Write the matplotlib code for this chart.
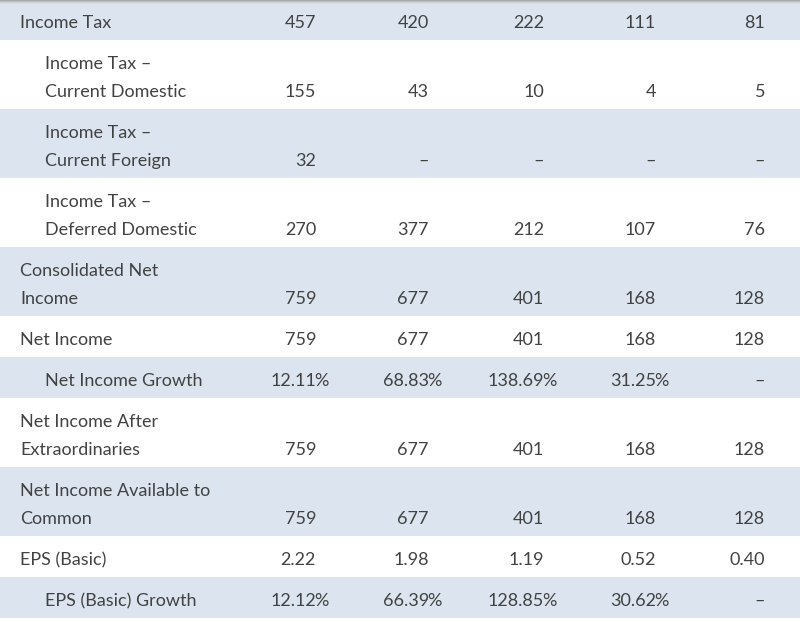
# -*- coding: utf-8 -*-
import matplotlib.pyplot as plt
from matplotlib.patches import Rectangle

# %%
# row labels (two-line labels wrap with \n) and indent level
row_labels = ['Income Tax',
              'Income Tax –\nCurrent Domestic',
              'Income Tax –\nCurrent Foreign',
              'Income Tax –\nDeferred Domestic',
              'Consolidated Net\nIncome',
              'Net Income',
              'Net Income Growth',
              'Net Income After\nExtraordinaries',
              'Net Income Available to\nCommon',
              'EPS (Basic)',
              'EPS (Basic) Growth']
indent = [0, 1, 1, 1, 0, 0, 1, 0, 0, 0, 1]

# values per row, 5 periods; None = no value
income_tax = [457, 420, 222, 111, 81]
tax_current_domestic = [155, 43, 10, 4, 5]
tax_current_foreign = [32, None, None, None, None]
tax_deferred_domestic = [270, 377, 212, 107, 76]
consolidated_net_income = [759, 677, 401, 168, 128]
net_income = [759, 677, 401, 168, 128]
net_income_growth = [12.11, 68.83, 138.69, 31.25, None]
net_income_after_extra = [759, 677, 401, 168, 128]
net_income_common = [759, 677, 401, 168, 128]
eps_basic = [2.22, 1.98, 1.19, 0.52, 0.40]
eps_basic_growth = [12.12, 66.39, 128.85, 30.62, None]

rows = [income_tax, tax_current_domestic, tax_current_foreign, tax_deferred_domestic,
        consolidated_net_income, net_income, net_income_growth, net_income_after_extra,
        net_income_common, eps_basic, eps_basic_growth]
row_fmt = ['int', 'int', 'int', 'int', 'int', 'int', 'pct', 'int', 'int', 'eps', 'pct']

# %%
W, H = 800, 622
col_right = [316, 429, 544, 656, 765]
shade = '#dce5ef'
txt = '#424242'
font = dict(family='Lato', fontsize=13, color=txt)

fig = plt.figure(figsize=(W / 100, H / 100), dpi=100)
ax = fig.add_axes([0, 0, 1, 1])
ax.set_xlim(0, W)
ax.set_ylim(H, 0)
ax.axis('off')

top = -1
for i, label in enumerate(row_labels):
    n_lines = label.count('\n') + 1
    h = 41 if n_lines == 1 else 69
    if i % 2 == 0:
        ax.add_patch(Rectangle((0, top), W, h, facecolor=shade, edgecolor='none', zorder=0))
    x_lab = 20 if indent[i] == 0 else 45
    for k, line in enumerate(label.split('\n')):
        ax.text(x_lab, top + 29 + 28 * k, line, ha='left', va='baseline', **font)
    y_val = top + 29 + 28 * (n_lines - 1)
    for j, v in enumerate(rows[i]):
        if v is None:
            ax.text(col_right[j], y_val, '–', ha='right', va='baseline', **font)
        elif row_fmt[i] == 'pct':
            ax.text(col_right[j], y_val, '%.2f' % v, ha='right', va='baseline', **font)
            ax.text(col_right[j] - 1.5, y_val, '%', ha='left', va='baseline', **font)
        elif row_fmt[i] == 'eps':
            ax.text(col_right[j], y_val, '%.2f' % v, ha='right', va='baseline', **font)
        else:
            ax.text(col_right[j], y_val, '%d' % v, ha='right', va='baseline', **font)
    top += h

# grey shadow along the top edge
shadow = ['#a9a9a9', '#bdbdbd', '#cfd2d6', '#d8dde3', '#dbe2ea']
for k, c in enumerate(shadow):
    ax.add_patch(Rectangle((0, k), W, 1, facecolor=c, edgecolor='none', zorder=1))

plt.savefig('out.png', dpi=100)
